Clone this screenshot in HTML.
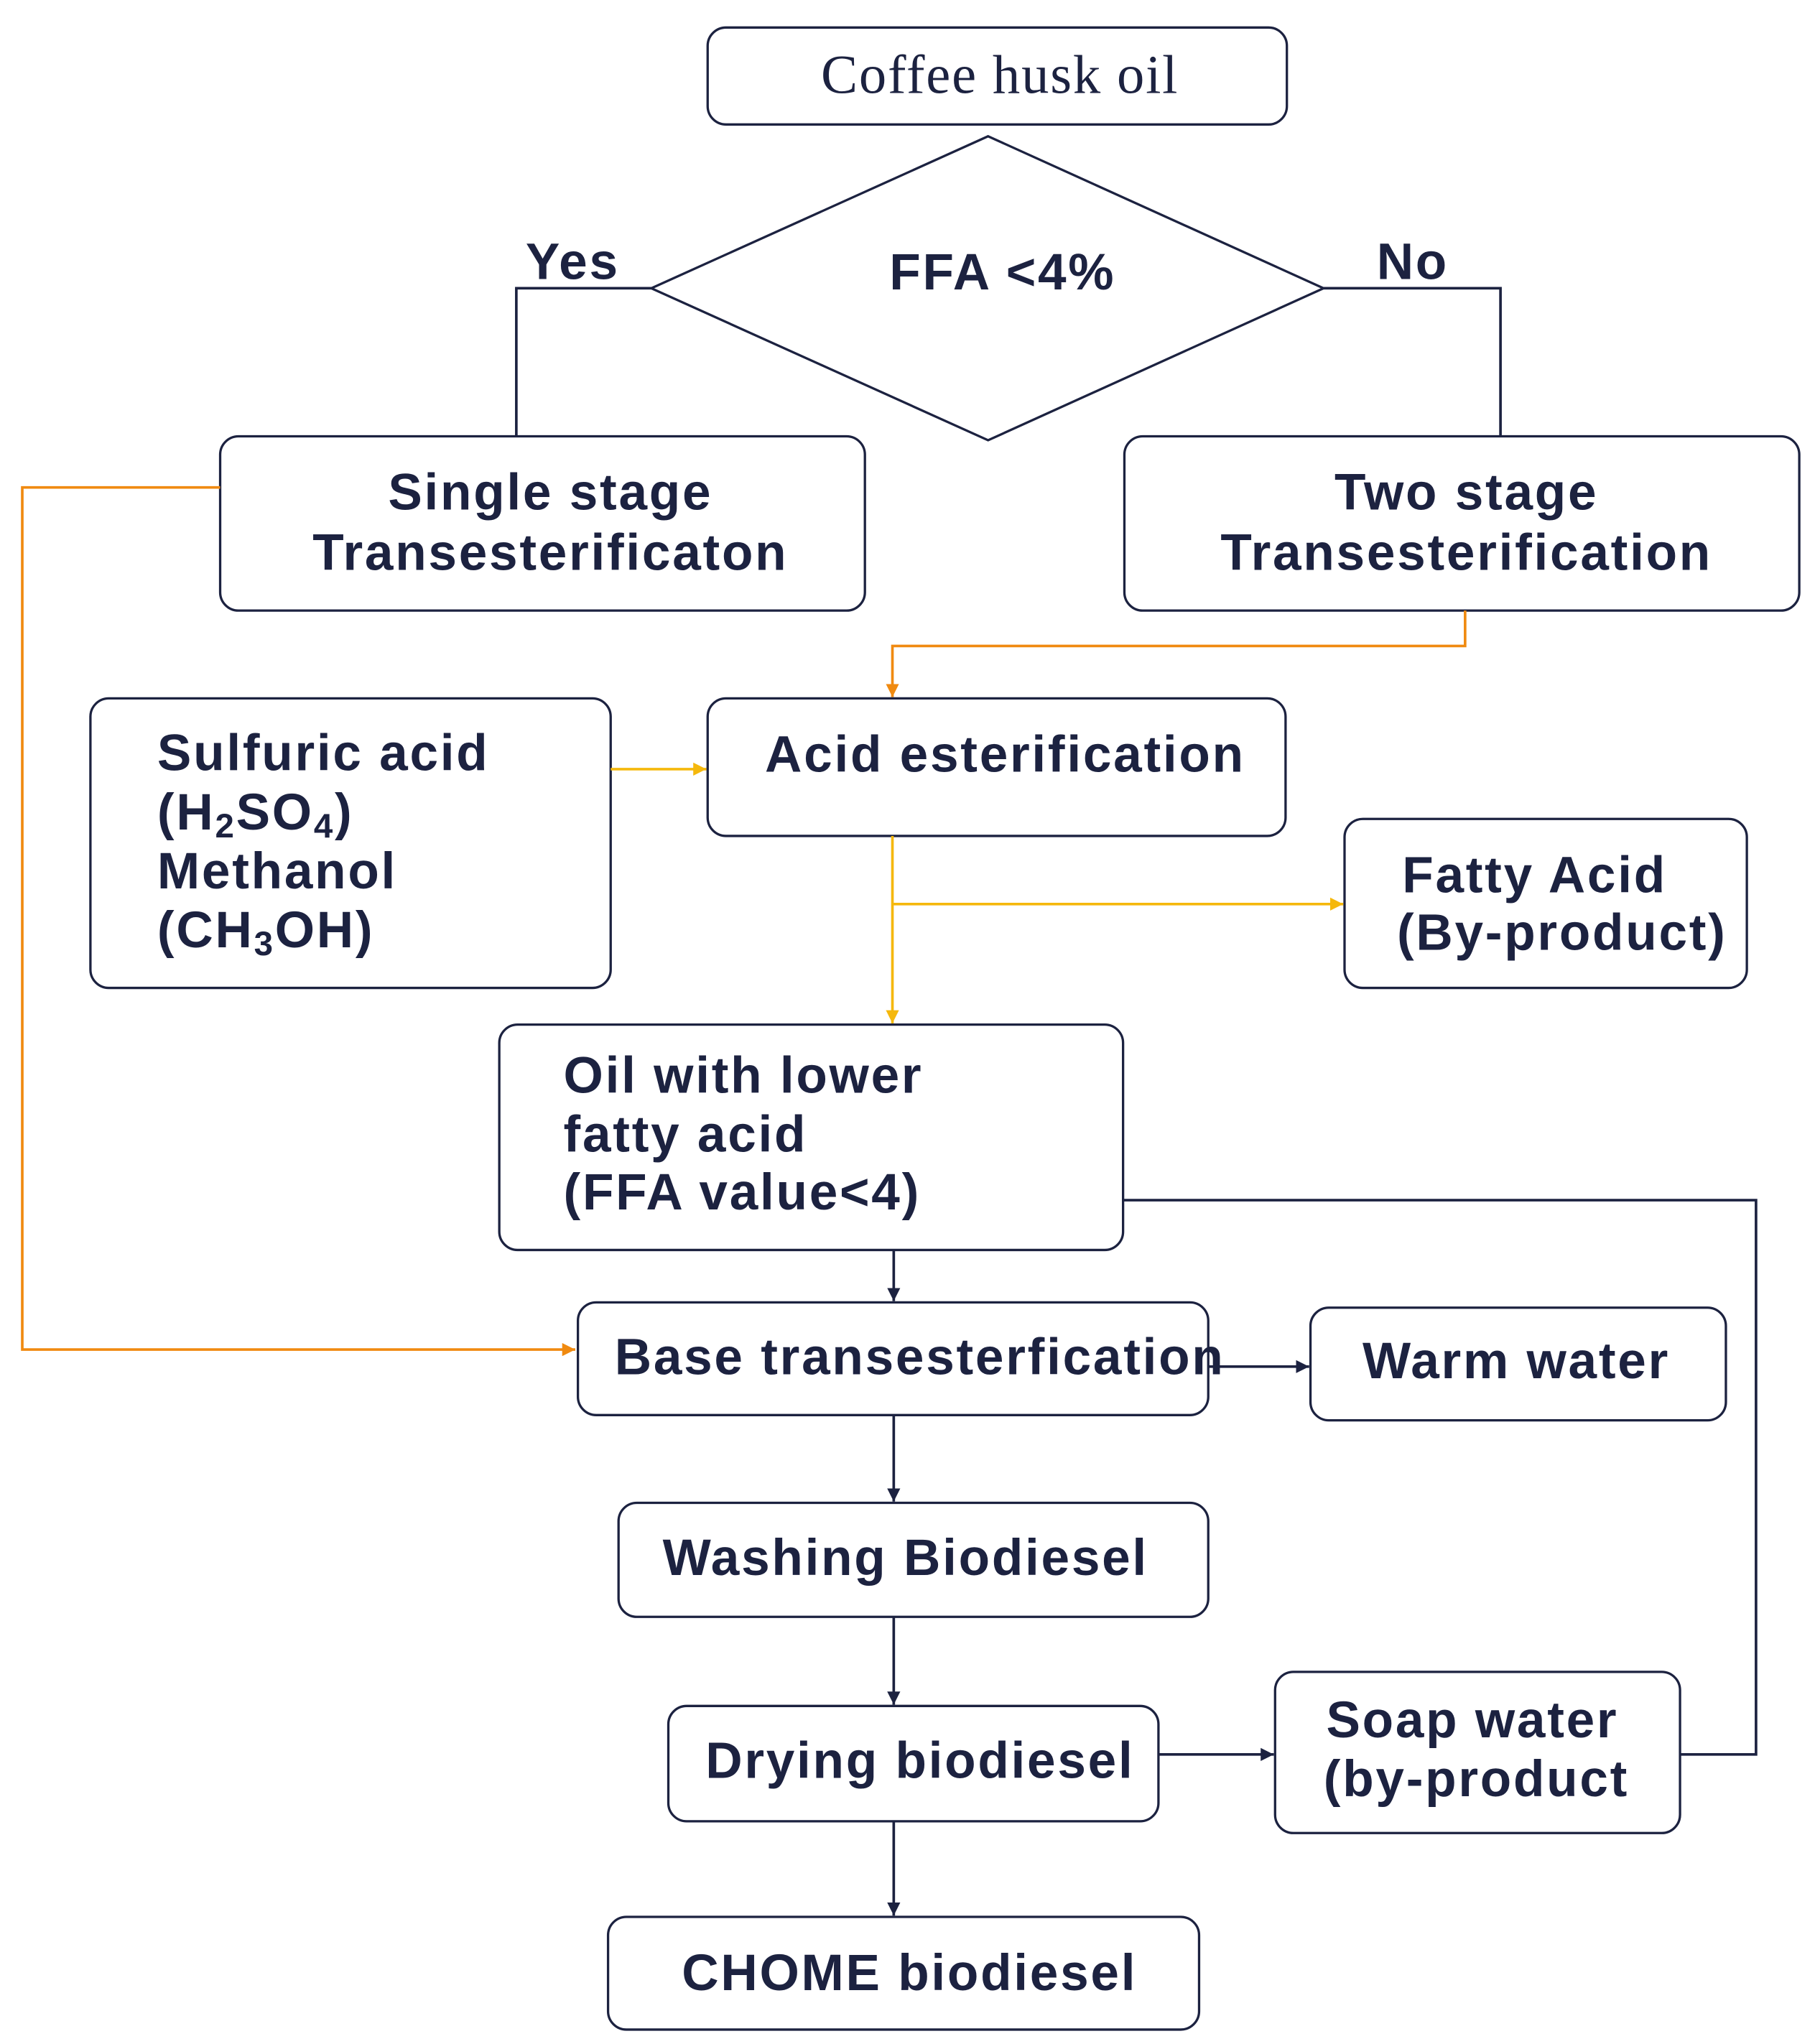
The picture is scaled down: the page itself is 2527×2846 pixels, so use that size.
<!DOCTYPE html>
<html><head><style>html,body{margin:0;padding:0;background:#fff}svg{display:block}</style></head>
<body>
<svg width="2527" height="2846" viewBox="0 0 1385 1560" preserveAspectRatio="none" xmlns="http://www.w3.org/2000/svg">
<defs>
<marker id="ad" viewBox="0 0 10 10" refX="10" refY="5" markerWidth="5" markerHeight="5" orient="auto"><path d="M0,0L10,5L0,10z" fill="#1c2240"/></marker>
<marker id="ao" viewBox="0 0 10 10" refX="10" refY="5" markerWidth="5" markerHeight="5" orient="auto"><path d="M0,0L10,5L0,10z" fill="#f08a10"/></marker>
<marker id="ay" viewBox="0 0 10 10" refX="10" refY="5" markerWidth="5" markerHeight="5" orient="auto"><path d="M0,0L10,5L0,10z" fill="#f5b80c"/></marker>
</defs>
<g fill="#fff" stroke="#1c2240" stroke-width="1.8">
<rect x="540" y="21" width="442" height="74" rx="14"/>
<polygon points="754,104 1010,220 754,336 497,220"/>
<rect x="168" y="333" width="492" height="133" rx="14"/>
<rect x="858" y="333" width="515" height="133" rx="14"/>
<rect x="69" y="533" width="397" height="221" rx="14"/>
<rect x="540" y="533" width="441" height="105" rx="14"/>
<rect x="1026" y="625" width="307" height="129" rx="14"/>
<rect x="381" y="782" width="476" height="172" rx="14"/>
<rect x="441" y="994" width="481" height="86" rx="14"/>
<rect x="1000" y="998" width="317" height="86" rx="14"/>
<rect x="472" y="1147" width="450" height="87" rx="14"/>
<rect x="510" y="1302" width="374" height="88" rx="14"/>
<rect x="973" y="1276" width="309" height="123" rx="14"/>
<rect x="464" y="1463" width="451" height="86" rx="14"/>
</g>
<g fill="none" stroke="#1c2240" stroke-width="2">
<polyline points="497,220 394,220 394,333"/>
<polyline points="1010,220 1145,220 1145,333"/>
<polyline points="857,916 1340,916 1340,1339 1282,1339"/>
<line x1="682" y1="954" x2="682" y2="993" marker-end="url(#ad)"/>
<line x1="922" y1="1043" x2="999" y2="1043" marker-end="url(#ad)"/>
<line x1="682" y1="1080" x2="682" y2="1146" marker-end="url(#ad)"/>
<line x1="682" y1="1234" x2="682" y2="1301" marker-end="url(#ad)"/>
<line x1="884" y1="1339" x2="972" y2="1339" marker-end="url(#ad)"/>
<line x1="682" y1="1390" x2="682" y2="1462" marker-end="url(#ad)"/>
</g>
<g fill="none" stroke="#f08a10" stroke-width="2">
<polyline points="168,372 17,372 17,1030 439,1030" marker-end="url(#ao)"/>
<polyline points="1118,466 1118,493 681,493 681,532" marker-end="url(#ao)"/>
</g>
<g fill="none" stroke="#f5b80c" stroke-width="2">
<line x1="466" y1="587" x2="539" y2="587" marker-end="url(#ay)"/>
<line x1="681" y1="638" x2="681" y2="781" marker-end="url(#ay)"/>
<line x1="681" y1="690" x2="1025" y2="690" marker-end="url(#ay)"/>
</g>
<g fill="#1c2240" font-family="Liberation Sans, sans-serif" font-size="39" font-weight="bold" letter-spacing="1.5">
<text x="763" y="71" text-anchor="middle" font-family="Liberation Serif, serif" font-weight="normal" font-size="42" letter-spacing="1">Coffee husk oil</text>
<text x="765" y="221" text-anchor="middle">FFA &lt;4%</text>
<text x="437" y="213" text-anchor="middle">Yes</text>
<text x="1078" y="213" text-anchor="middle">No</text>
<text x="420" y="389" text-anchor="middle">Single stage</text>
<text x="420" y="435" text-anchor="middle">Transesterificaton</text>
<text x="1119" y="389" text-anchor="middle">Two stage</text>
<text x="1119" y="435" text-anchor="middle">Transesterification</text>
<text x="120" y="588">Sulfuric acid</text>
<text x="120" y="633">(H<tspan font-size="26" dy="6">2</tspan><tspan dy="-6">SO</tspan><tspan font-size="26" dy="6">4</tspan><tspan dy="-6">)</tspan></text>
<text x="120" y="678">Methanol</text>
<text x="120" y="723">(CH<tspan font-size="26" dy="6">3</tspan><tspan dy="-6">OH)</tspan></text>
<text x="767" y="589" text-anchor="middle">Acid esterification</text>
<text x="1070" y="681">Fatty Acid</text>
<text x="1066" y="725">(By-product)</text>
<text x="430" y="834">Oil with lower</text>
<text x="430" y="879">fatty acid</text>
<text x="430" y="923">(FFA value&lt;4)</text>
<text x="469" y="1049">Base transesterfication</text>
<text x="1157" y="1052" text-anchor="middle">Warm water</text>
<text x="691" y="1202" text-anchor="middle">Washing Biodiesel</text>
<text x="702" y="1357" text-anchor="middle">Drying biodiesel</text>
<text x="1012" y="1326">Soap water</text>
<text x="1010" y="1371">(by-product</text>
<text x="694" y="1519" text-anchor="middle">CHOME biodiesel</text>
</g>
</svg>
</body></html>
